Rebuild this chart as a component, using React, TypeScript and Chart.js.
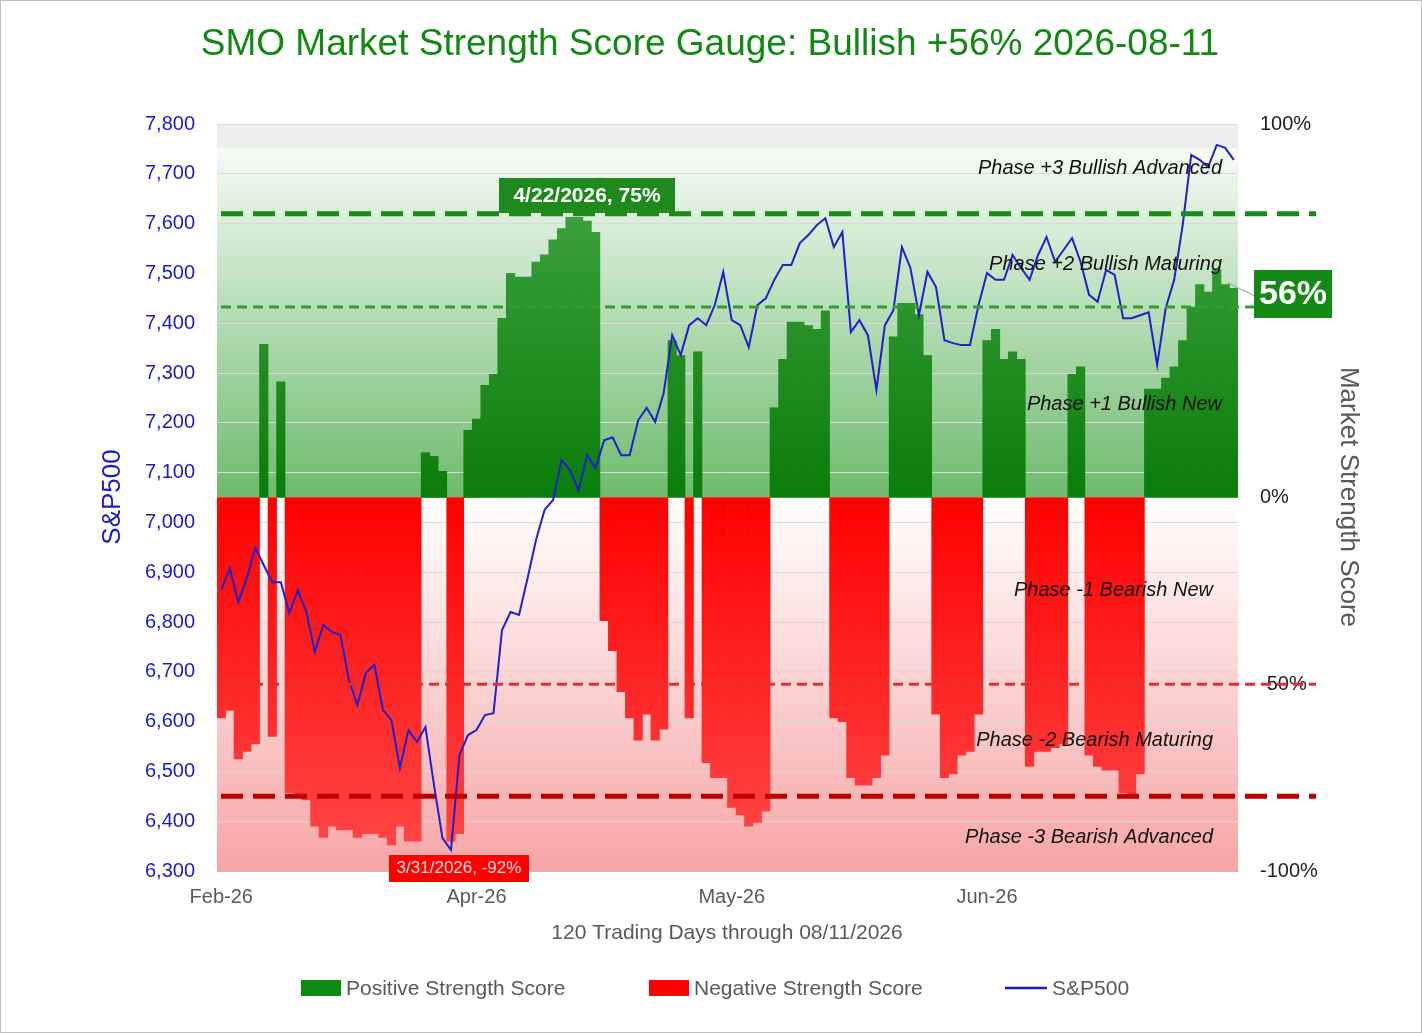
import React, { useEffect, useRef } from "react";
import { Chart, registerables } from "chart.js";
Chart.register(...registerables);

const xTickLabels: Record<number, string> = { 0: "Feb-26", 30: "Apr-26", 60: "May-26", 90: "Jun-26" };

const scores: number[] = [
  -59, -57, -70, -68, -66, 41, -64, 31,
  -79, -80, -81, -88, -91, -88, -89, -89, -91, -90, -90, -91, -93, -88, -92, -92,
  12, 11, 7, -92, -90,
  18, 21, 30, 33, 48, 60, 59, 59, 63, 65, 69, 72, 75, 75, 74, 71,
  -33, -41, -52, -59, -65, -58, -65, -62,
  42, 38, -59, 39,
  -71, -75, -75, -83, -85, -88, -87, -84,
  24, 37, 47, 47, 46, 45, 50,
  -59, -60, -75, -77, -77, -75, -69,
  43, 52, 52, 49, 38,
  -58, -75, -74, -69, -68, -58,
  42, 45, 37, 39, 37,
  -72, -68, -68, -67, -66,
  33, 35,
  -69, -72, -73, -73, -79, -80, -74,
  29, 29, 32, 35, 42, 51, 57, 55, 61, 57, 56,
];

const sp500: number[] = [
  6864, 6908, 6840, 6888, 6949, 6914, 6880, 6880, 6818, 6864,
  6820, 6740, 6794, 6780, 6774, 6684, 6633, 6698, 6714, 6623,
  6603, 6507, 6583, 6559, 6589, 6473, 6366, 6342, 6533, 6573,
  6583, 6613, 6617, 6784, 6820, 6814, 6888, 6965, 7025, 7045,
  7125, 7105, 7064, 7135, 7109, 7165, 7171, 7135, 7135, 7205,
  7230, 7202, 7260, 7376, 7336, 7396, 7410, 7396, 7436, 7503,
  7406, 7396, 7352, 7436, 7450, 7487, 7517, 7517, 7561, 7577,
  7597, 7611, 7553, 7583, 7382, 7406, 7376, 7266, 7396, 7426,
  7553, 7511, 7416, 7503, 7473, 7366, 7360, 7356, 7356, 7436,
  7501, 7487, 7487, 7537, 7511, 7487, 7537, 7573, 7523, 7547,
  7571, 7523, 7457, 7443, 7507, 7497, 7410, 7410, 7416, 7422,
  7316, 7430, 7487, 7597, 7738, 7728, 7714, 7758, 7752, 7728,
];

const phaseLines = [
  { v: 76, color: "#1a8a1a", w: 5, dash: [22, 10] },
  { v: 51, color: "#2ea02e", w: 3, dash: [10, 6] },
  { v: -50, color: "#e03030", w: 3, dash: [10, 6] },
  { v: -80, color: "#c00000", w: 5, dash: [22, 10] },
];
const phaseTexts = [
  { t: "Phase +3 Bullish Advanced", v: 88 },
  { t: "Phase +2 Bullish Maturing", v: 62.5 },
  { t: "Phase +1 Bullish New", v: 25 },
  { t: "Phase -1 Bearish New", v: -25 },
  { t: "Phase -2 Bearish Maturing", v: -65 },
  { t: "Phase -3 Bearish Advanced", v: -91 },
];

const FONT = "'Liberation Sans', Arial, sans-serif";
const categories = scores.map((_, i) => String(i));

export default function App() {
  const ref = useRef<HTMLCanvasElement>(null);
  useEffect(() => {
    document.body.style.margin = "0";
    const canvas = ref.current!;
    const bg = {
      id: "bg",
      beforeDraw(c: any) {
        const { ctx, chartArea: a, scales } = c;
        const y0 = scales.y2.getPixelForValue(0);
        ctx.save();
        ctx.fillStyle = "#ffffff";
        ctx.fillRect(0, 0, c.width, c.height);
        ctx.fillStyle = "#efefef";
        ctx.fillRect(a.left, a.top, a.right - a.left, 24);
        let g = ctx.createLinearGradient(0, a.top + 24, 0, y0);
        g.addColorStop(0, "#f7fbf7");
        g.addColorStop(1, "#6dbb6d");
        ctx.fillStyle = g;
        ctx.fillRect(a.left, a.top + 24, a.right - a.left, y0 - a.top - 24);
        g = ctx.createLinearGradient(0, y0, 0, a.bottom);
        g.addColorStop(0, "#ffffff");
        g.addColorStop(1, "#f7a5a5");
        ctx.fillStyle = g;
        ctx.fillRect(a.left, y0, a.right - a.left, a.bottom - y0);
        ctx.restore();
      },
      afterDatasetsDraw(c: any) {
        const { ctx, chartArea: a, scales } = c;
        const ys = scales.y2;
        ctx.save();
        phaseLines.forEach((p) => {
          const y = ys.getPixelForValue(p.v);
          ctx.strokeStyle = p.color;
          ctx.lineWidth = p.w;
          ctx.setLineDash(p.dash);
          ctx.beginPath();
          ctx.moveTo(a.left + 4, y);
          ctx.lineTo(1316, y);
          ctx.stroke();
        });
        ctx.setLineDash([]);
        ctx.fillStyle = "#111";
        ctx.font = `italic 20px ${FONT}`;
        ctx.textAlign = "right";
        ctx.textBaseline = "middle";
        phaseTexts.forEach((p, i) => {
          ctx.fillText(p.t, i < 3 ? 1222 : 1213, ys.getPixelForValue(p.v));
        });
        ctx.fillStyle = "#1e8a1e";
        ctx.fillRect(499, 178, 176, 35);
        ctx.fillStyle = "#fff";
        ctx.font = `bold 21px ${FONT}`;
        ctx.textAlign = "center";
        ctx.fillText("4/22/2026, 75%", 587, 196);
        ctx.fillStyle = "#ff0000";
        ctx.fillRect(389, 855, 140, 27);
        ctx.fillStyle = "#ffdede";
        ctx.font = `17px ${FONT}`;
        ctx.fillText("3/31/2026, -92%", 459, 868);
        ctx.strokeStyle = "#999";
        ctx.lineWidth = 1;
        ctx.beginPath();
        ctx.moveTo(1228, 283);
        ctx.lineTo(1255, 296);
        ctx.stroke();
        ctx.fillStyle = "#138a13";
        ctx.fillRect(1254, 270, 78, 48);
        ctx.fillStyle = "#fff";
        ctx.font = `bold 34px ${FONT}`;
        ctx.fillText("56%", 1293, 295);
        ctx.restore();
      },
      afterDraw(c: any) {
        const { ctx } = c;
        ctx.save();
        ctx.textAlign = "center";
        ctx.textBaseline = "middle";
        ctx.fillStyle = "#118a11";
        ctx.font = `37px ${FONT}`;
        ctx.fillText("SMO Market Strength Score Gauge: Bullish +56% 2026-08-11", 710, 45);
        ctx.fillStyle = "#595959";
        ctx.font = `21px ${FONT}`;
        ctx.fillText("120 Trading Days through 08/11/2026", 727, 933);
        ctx.save();
        ctx.translate(113, 497);
        ctx.rotate(-Math.PI / 2);
        ctx.fillStyle = "#1a1acc";
        ctx.font = `26px ${FONT}`;
        ctx.fillText("S&P500", 0, 0);
        ctx.restore();
        ctx.save();
        ctx.translate(1348, 497);
        ctx.rotate(Math.PI / 2);
        ctx.fillStyle = "#595959";
        ctx.font = `26px ${FONT}`;
        ctx.fillText("Market Strength Score", 0, 0);
        ctx.restore();
        ctx.textAlign = "left";
        ctx.font = `21px ${FONT}`;
        ctx.fillStyle = "#118a11";
        ctx.fillRect(301, 980, 40, 16);
        ctx.fillStyle = "#ff0000";
        ctx.fillRect(649, 980, 40, 16);
        ctx.strokeStyle = "#1a1acc";
        ctx.lineWidth = 2.5;
        ctx.beginPath();
        ctx.moveTo(1005, 988);
        ctx.lineTo(1047, 988);
        ctx.stroke();
        ctx.fillStyle = "#595959";
        ctx.fillText("Positive Strength Score", 346, 989);
        ctx.fillText("Negative Strength Score", 694, 989);
        ctx.fillText("S&P500", 1052, 989);
        ctx.strokeStyle = "#bfbfbf";
        ctx.lineWidth = 1;
        ctx.strokeRect(0.5, 0.5, 1421, 1032);
        ctx.restore();
      },
    };
    const greenFill = (ctx: any) => {
      const c = ctx.chart;
      if (!c.chartArea) return "#2f9a35";
      const y2 = c.scales.y2;
      const g = c.ctx.createLinearGradient(0, y2.getPixelForValue(100), 0, y2.getPixelForValue(0));
      g.addColorStop(0, "#4aaa4a");
      g.addColorStop(1, "#0a7d0a");
      return g;
    };
    const redFill = (ctx: any) => {
      const c = ctx.chart;
      if (!c.chartArea) return "#ff2020";
      const y2 = c.scales.y2;
      const g = c.ctx.createLinearGradient(0, y2.getPixelForValue(0), 0, y2.getPixelForValue(-100));
      g.addColorStop(0, "#ff0000");
      g.addColorStop(1, "#ff4a4a");
      return g;
    };
    const chart = new Chart(canvas, {
      type: "bar",
      data: {
        labels: categories,
        datasets: [
          {
            type: "line",
            label: "S&P500",
            data: sp500,
            yAxisID: "y",
            borderColor: "#2020cc",
            borderWidth: 2,
            pointRadius: 0,
            tension: 0,
            order: 0,
          } as any,
          {
            label: "Positive Strength Score",
            data: scores.map((v) => (v > 0 ? v : null)),
            yAxisID: "y2",
            backgroundColor: greenFill,
            barPercentage: 1,
            categoryPercentage: 1,
            grouped: false,
            order: 1,
          },
          {
            label: "Negative Strength Score",
            data: scores.map((v) => (v < 0 ? v : null)),
            yAxisID: "y2",
            backgroundColor: redFill,
            barPercentage: 1,
            categoryPercentage: 1,
            grouped: false,
            order: 1,
          },
        ],
      },
      options: {
        responsive: false,
        animation: false,
        layout: { padding: { top: 124, left: 0, right: 0, bottom: 0 } },
        plugins: { legend: { display: false }, tooltip: { enabled: false }, title: { display: false } },
        scales: {
          x: {
            grid: { display: false },
            border: { color: "#bfbfbf" },
            ticks: {
              autoSkip: false,
              maxRotation: 0,
              padding: 6,
              color: "#595959",
              font: { size: 20, family: FONT },
              callback: (_v: any, i: number) => xTickLabels[i] ?? "",
            },
            afterFit: (s: any) => { s.height = 162; },
          },
          y: {
            position: "left",
            min: 6300,
            max: 7800,
            ticks: {
              stepSize: 100,
              padding: 22,
              color: "#1a1acc",
              font: { size: 20, family: FONT },
              callback: (v: any) => Number(v).toLocaleString("en-US"),
            },
            grid: { color: "#d9d9d9", drawTicks: false },
            border: { display: false },
            afterFit: (s: any) => { s.width = 217; },
          },
          y2: {
            position: "right",
            min: -100,
            max: 100,
            ticks: {
              stepSize: 50,
              padding: 22,
              color: "#222",
              font: { size: 20, family: FONT },
              callback: (v: any) => `${v}%`,
            },
            grid: { display: false, drawTicks: false },
            border: { display: false },
            afterFit: (s: any) => { s.width = 184; },
          },
        },
      },
      plugins: [bg],
    } as any);
    return () => chart.destroy();
  }, []);
  return (
    <div style={{ width: 1422, height: 1033 }}>
      <canvas ref={ref} width={1422} height={1033} />
    </div>
  );
}
